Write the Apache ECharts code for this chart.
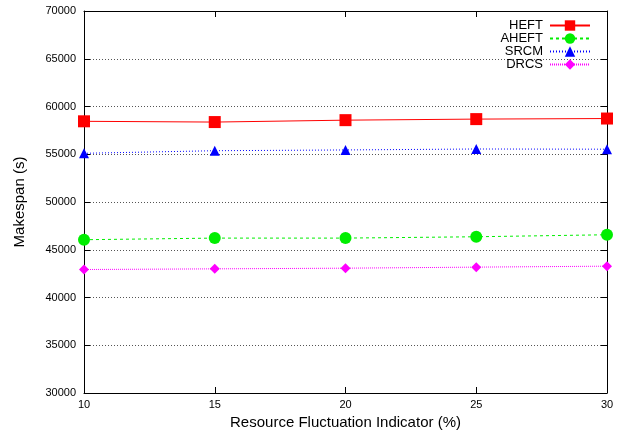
<!DOCTYPE html>
<html>
<head>
<meta charset="utf-8">
<script src="https://cdn.jsdelivr.net/npm/echarts@6/dist/echarts.min.js"></script>
<style>
  html, body { margin: 0; padding: 0; background: #fff; }
  #chart { width: 618px; height: 439px; }
</style>
</head>
<body>
<div id="chart"></div>
<script>
// data
var xValues = [10, 15, 20, 25, 30];
var heft  = [58450, 58370, 58570, 58680, 58740];
var aheft = [46050, 46220, 46220, 46360, 46570];
var srcm  = [55100, 55370, 55450, 55550, 55530];
var drcs  = [42930, 43000, 43070, 43180, 43280];

var font = 'Liberation Sans, Arial, Helvetica, sans-serif';

function pairs(arr) {
    return arr.map(function (v, i) { return [xValues[i], v]; });
}

function line(name, data, color, type, symbol, size) {
    return {
        name: name,
        type: 'line',
        data: pairs(data),
        symbol: symbol,
        symbolSize: size,
        itemStyle: { color: color },
        lineStyle: { color: color, width: 1, type: type },
        animation: false
    };
}

var chart = echarts.init(document.getElementById('chart'));
chart.setOption({
    animation: false,
    grid: { left: 84, right: 11, top: 11, bottom: 46 },
    legend: {
        orient: 'vertical',
        top: 14,
        right: 22,
        align: 'right',
        itemWidth: 40,
        itemHeight: 13,
        itemGap: 0,
        textStyle: { fontFamily: font, fontSize: 13, color: '#000', padding: [0, 2, 0, 0] },
        data: ['HEFT', 'AHEFT', 'SRCM', 'DRCS']
    },
    xAxis: [{
        type: 'value',
        min: 10, max: 30, interval: 5,
        name: 'Resource Fluctuation Indicator (%)',
        nameLocation: 'middle',
        nameGap: 22,
        nameTextStyle: { fontFamily: font, fontSize: 15, color: '#000' },
        axisLine: { lineStyle: { color: '#000', width: 1 } },
        axisTick: { inside: true, length: 6, lineStyle: { color: '#000' } },
        axisLabel: { fontFamily: font, fontSize: 11, color: '#000', margin: 6 },
        splitLine: { show: false }
    }, {
        type: 'value', position: 'top',
        min: 10, max: 30, interval: 5,
        axisLine: { show: true, lineStyle: { color: '#000', width: 1 } },
        axisTick: { inside: true, length: 6, lineStyle: { color: '#000' } },
        axisLabel: { show: false },
        splitLine: { show: false }
    }],
    yAxis: [{
        type: 'value',
        min: 30000, max: 70000, interval: 5000,
        name: 'Makespan (s)',
        nameLocation: 'middle',
        nameGap: 57,
        nameTextStyle: { fontFamily: font, fontSize: 15, color: '#000' },
        axisLine: { show: true, lineStyle: { color: '#000', width: 1 } },
        axisTick: { inside: true, length: 6, lineStyle: { color: '#000' } },
        axisLabel: {
            fontFamily: font, fontSize: 11, color: '#000', margin: 8,
            formatter: function (v) { return String(v); }
        },
        splitLine: { show: true, lineStyle: { color: '#555', type: [1, 2], width: 1 } }
    }, {
        type: 'value', position: 'right',
        min: 30000, max: 70000, interval: 5000,
        axisLine: { show: true, lineStyle: { color: '#000', width: 1 } },
        axisTick: { show: true, inside: true, length: 6, lineStyle: { color: '#000' } },
        axisLabel: { show: false },
        splitLine: { show: false }
    }],
    series: [
        line('HEFT', heft, '#ff0000', 'solid', 'rect', 12),
        line('AHEFT', aheft, '#00ee00', [3, 3], 'circle', 12),
        line('SRCM', srcm, '#0000ff', [1, 2], 'triangle', 10),
        line('DRCS', drcs, '#ff00ff', [1, 1], 'diamond', 10)
    ]
});
</script>
</body>
</html>
